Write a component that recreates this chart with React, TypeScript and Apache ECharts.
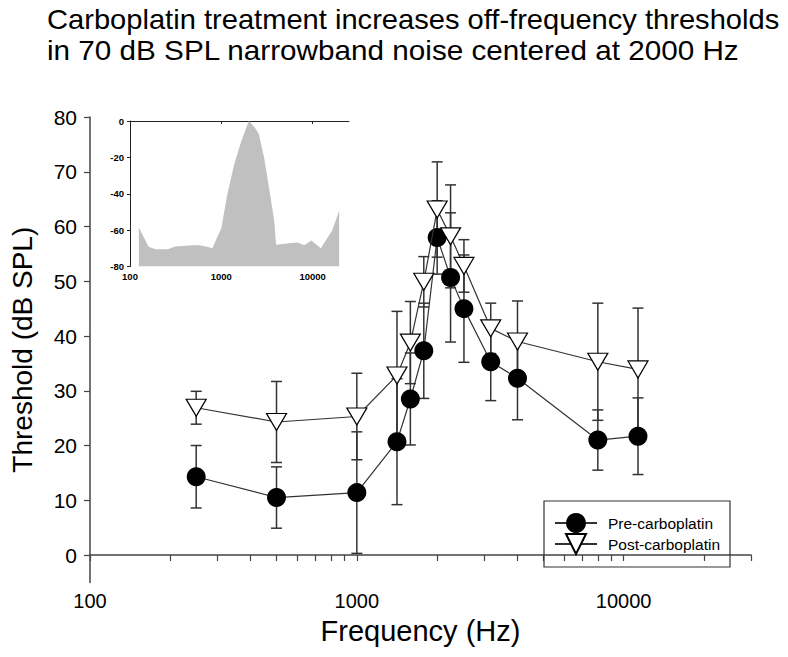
import React, { useEffect, useRef } from "react";
import * as echarts from "echarts";

// ---- Main chart data ----
const frequencies = [250, 500, 1000, 1414, 1587, 1782, 2000, 2245, 2520, 3175, 4000, 8000, 11314];
const preThreshold = [14.3, 10.5, 11.4, 20.7, 28.5, 37.3, 58.0, 50.7, 45.0, 35.3, 32.3, 21.0, 21.7];
const preError = [5.7, 5.6, 11.1, 11.5, 8.4, 8.7, 6.7, 11.8, 9.8, 7.1, 7.6, 5.5, 7.0];
const postThreshold = [26.9, 24.3, 25.3, 32.8, 38.8, 49.9, 63.1, 58.2, 52.8, 41.4, 39.0, 35.3, 33.9];
const postError = [3.0, 7.4, 7.9, 11.7, 7.5, 4.6, 8.7, 9.4, 4.8, 4.6, 7.4, 10.7, 11.2];

const mainYTicks = [0, 10, 20, 30, 40, 50, 60, 70, 80];
const mainXLabels = [100, 1000, 10000];
const mainXTicks = [
  100, 200, 300, 400, 500, 600, 700, 800, 900,
  1000, 2000, 3000, 4000, 5000, 6000, 7000, 8000, 9000,
  10000, 20000, 30000,
];

// ---- Inset (noise spectrum) data ----
const insetFreq = [125, 160, 190, 260, 310, 400, 480, 575, 680, 800, 890, 1000, 1160, 1380, 1660, 2000, 2300, 2570, 2940, 3330, 3800, 3980, 5200, 6800, 8100, 9670, 12300, 16400, 19500];
const insetLevel = [-58.6, -69.2, -70.5, -70.5, -69, -68.6, -68.3, -68.3, -69, -70, -64.5, -59, -40.5, -24, -10.8, 0, -3.3, -7, -20, -36.7, -55, -68, -67.3, -66.8, -68.3, -65.7, -70, -60, -49.4];
const insetYTicks = [0, -20, -40, -60, -80];
const insetXLabels = [100, 1000, 10000];

const titleLines = [
  "Carboplatin treatment increases off-frequency thresholds",
  "in 70 dB SPL narrowband noise centered at 2000 Hz",
];

const FONT = '"Liberation Sans", Arial, sans-serif';
const AXIS_COLOR = "#444";
const BAR_COLOR = "#333";

function errorBars(values: number[], errors: number[]) {
  return {
    type: "custom",
    xAxisIndex: 0,
    yAxisIndex: 0,
    silent: true,
    z: 1,
    encode: { x: 0, y: [1, 2] },
    data: frequencies.map((f, i) => [f, values[i] - errors[i], values[i] + errors[i]]),
    renderItem: (params: any, api: any) => {
      const x = api.value(0);
      const lo = api.coord([x, api.value(1)]);
      const hi = api.coord([x, api.value(2)]);
      const w = 5.5;
      const style = { stroke: BAR_COLOR, lineWidth: 1.5 };
      return {
        type: "group",
        children: [
          { type: "line", shape: { x1: lo[0], y1: lo[1], x2: hi[0], y2: hi[1] }, style },
          { type: "line", shape: { x1: hi[0] - w, y1: hi[1], x2: hi[0] + w, y2: hi[1] }, style },
          { type: "line", shape: { x1: lo[0] - w, y1: lo[1], x2: lo[0] + w, y2: lo[1] }, style },
        ],
      };
    },
  };
}

export default function App() {
  const ref = useRef<HTMLDivElement>(null);

  useEffect(() => {
    if (!ref.current) return;
    const chart = echarts.init(ref.current, null, { renderer: "svg" });

    const option: any = {
      animation: false,
      backgroundColor: "#fff",
      textStyle: { fontFamily: FONT },
      graphic: [
        {
          type: "text",
          x: 47,
          y: 19,
          scaleX: 1.04,
          style: { text: titleLines[0], font: `28px ${FONT}`, fill: "#000", verticalAlign: "middle", align: "left" },
        },
        {
          type: "text",
          x: 47,
          y: 50,
          scaleX: 1.06,
          style: { text: titleLines[1], font: `28px ${FONT}`, fill: "#000", verticalAlign: "middle", align: "left" },
        },
      ],
      grid: [
        { left: 82, right: 37, top: 117, bottom: 74.6, containLabel: false },
        { left: 130, top: 121, width: 219, height: 145.5, containLabel: false },
      ],
      legend: {
        orient: "vertical",
        left: 544,
        top: 501,
        data: ["Pre-carboplatin", "Post-carboplatin"],
        padding: [12, 10, 12, 10],
        itemWidth: 42,
        itemHeight: 25,
        itemGap: 0,
        borderColor: "#333",
        borderWidth: 1.2,
        borderRadius: 0,
        textStyle: { fontSize: 15.5, fontFamily: FONT, color: "#000", padding: [0, 0, 0, 6] },
      },
      xAxis: [
        {
          gridIndex: 0,
          type: "log",
          logBase: 10,
          min: 100,
          max: 30000,
          name: "Frequency (Hz)",
          nameLocation: "middle",
          nameGap: 34,
          nameTextStyle: { fontSize: 29, fontFamily: FONT, color: "#000" },
          axisLine: { show: true, lineStyle: { color: AXIS_COLOR, width: 1.5 } },
          axisTick: { show: true, inside: false, length: 6, customValues: mainXTicks, lineStyle: { color: AXIS_COLOR, width: 1.2 } },
          minorTick: { show: false },
          axisLabel: {
            customValues: mainXLabels,
            fontSize: 20,
            fontFamily: FONT,
            color: "#000",
            margin: 9,
            formatter: (v: number) => String(Math.round(v)),
          },
          splitLine: { show: false },
        },
        {
          gridIndex: 1,
          type: "log",
          logBase: 10,
          min: 100,
          max: 25000,
          axisLine: { show: true, lineStyle: { color: "#222", width: 1 } },
          axisTick: { show: true, inside: false, length: 3, customValues: insetXLabels, lineStyle: { color: "#222" } },
          axisLabel: {
            customValues: insetXLabels,
            fontSize: 9.5,
            fontWeight: "bold",
            fontFamily: FONT,
            color: "#000",
            margin: 5,
            formatter: (v: number) => String(Math.round(v)),
          },
          splitLine: { show: false },
        },
      ],
      yAxis: [
        {
          gridIndex: 0,
          type: "value",
          min: -5,
          max: 80,
          name: "Threshold (dB SPL)",
          nameLocation: "middle",
          nameRotate: 90,
          nameGap: 54,
          nameTextStyle: { fontSize: 28, fontFamily: FONT, color: "#000" },
          axisLine: { show: true, lineStyle: { color: AXIS_COLOR, width: 1.5 } },
          axisTick: { show: true, inside: false, length: 6, customValues: mainYTicks, lineStyle: { color: AXIS_COLOR, width: 1.2 } },
          axisLabel: { customValues: mainYTicks, fontSize: 21, fontFamily: FONT, color: "#000", margin: 13 },
          splitLine: { show: false },
        },
        {
          gridIndex: 1,
          type: "value",
          min: -80,
          max: 0,
          interval: 20,
          axisLine: { show: true, lineStyle: { color: "#222", width: 1 } },
          axisTick: { show: true, inside: false, length: 3, lineStyle: { color: "#222" } },
          axisLabel: { customValues: insetYTicks, fontSize: 9.5, fontWeight: "bold", fontFamily: FONT, color: "#000", margin: 6 },
          splitLine: { show: false },
        },
      ],
      series: [
        {
          type: "line",
          xAxisIndex: 1,
          yAxisIndex: 1,
          data: insetFreq.map((f, i) => [f, insetLevel[i]]),
          symbol: "none",
          lineStyle: { width: 0, color: "#c0c0c0" },
          areaStyle: { color: "#c0c0c0", opacity: 1, origin: "start" },
          silent: true,
          z: 1,
        },
        errorBars(preThreshold, preError),
        errorBars(postThreshold, postError),
        {
          name: "Pre-carboplatin",
          type: "line",
          xAxisIndex: 0,
          yAxisIndex: 0,
          data: frequencies.map((f, i) => [f, preThreshold[i]]),
          symbol: "circle",
          symbolSize: 19,
          itemStyle: { color: "#000", borderColor: "#000", borderWidth: 0 },
          lineStyle: { color: "#333", width: 1.2 },
          z: 3,
        },
        {
          name: "Post-carboplatin",
          type: "line",
          xAxisIndex: 0,
          yAxisIndex: 0,
          data: frequencies.map((f, i) => [f, postThreshold[i]]),
          symbol: "triangle",
          symbolRotate: 180,
          symbolSize: [20, 17],
          itemStyle: { color: "#fff", borderColor: "#000", borderWidth: 1.2 },
          lineStyle: { color: "#333", width: 1.2 },
          z: 4,
        },
      ],
    };

    chart.setOption(option);
    return () => chart.dispose();
  }, []);

  return <div ref={ref} style={{ width: 788, height: 657, margin: -8 }} />;
}
